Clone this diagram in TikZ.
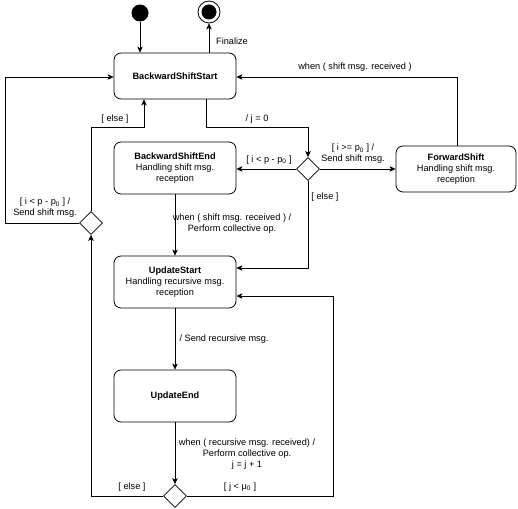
\documentclass[tikz,border=0pt]{standalone}
\usepackage{fontspec}
\setmainfont{Liberation Sans}
\usetikzlibrary{shapes.geometric,arrows.meta}
\begin{document}
\begin{tikzpicture}[x=1pt,y=-1pt,
  font=\fontsize{9.2}{11}\selectfont,
  state/.style={draw, rounded corners=7pt, line width=0.8pt, minimum width=122pt, minimum height=52pt, align=center, inner sep=2pt},
  choice/.style={draw, diamond, line width=0.8pt, minimum width=23pt, minimum height=23pt, inner sep=0pt, fill=white},
  conn/.style={line width=0.7pt, -{Stealth[length=6pt,width=5.5pt,inset=1.5pt]}},
  lbl/.style={align=center, inner sep=1pt}
]
\useasboundingbox (0,0) rectangle (518,508);

% states
\node[state, minimum height=46pt] (bss) at (175,76) {\textbf{BackwardShiftStart}};
\node[state] (bse) at (175,168) {\textbf{BackwardShiftEnd}\\Handling shift msg.\\reception};
\node[state, minimum width=120pt, minimum height=46pt] (fs) at (456,169) {\textbf{ForwardShift}\\Handling shift msg.\\reception};
\node[state] (us) at (175,282) {\textbf{UpdateStart}\\Handling recursive msg.\\reception};
\node[state] (ue) at (175,396) {\textbf{UpdateEnd}};

% pseudo states
\node[circle, fill=black, minimum size=17pt, inner sep=0pt] (init) at (140,13) {};
\node[circle, draw, line width=0.8pt, minimum size=22pt, inner sep=0pt] (fin) at (209,12) {};
\node[circle, fill=black, minimum size=15pt, inner sep=0pt] (finin) at (fin) {};

% choices
\node[choice] (d1) at (308,169) {};
\node[choice] (d2) at (91,223) {};
\node[choice] (d3) at (175,496) {};

% helper coordinates
\coordinate (c1) at (206,127);
\coordinate (c2) at (457,77);
\coordinate (c3) at (308,268);
\coordinate (c4) at (333,296);
\coordinate (c5) at (91,496);
\coordinate (c6) at (91,127);
\coordinate (c7) at (144,127);
\coordinate (c8) at (5,223);
\coordinate (c9) at (5,77);

% connectors
\draw[conn] (init) -- (init |- bss.north);
\draw[conn] (fin |- bss.north) -- (fin.south);
\draw[conn] (bss.south -| c1) -- (c1) -| (d1.north);
\draw[conn] (d1.west) -- (bse.east |- d1.west);
\draw[conn] (d1.east) -- (fs.west |- d1.east);
\draw[conn] (d1.south) -- (c3) -- (us.east |- c3);
\draw[conn] (fs.north -| c2) -- (c2) -- (bss.east |- c2);
\draw[conn] (bse.south) -- (us.north);
\draw[conn] (us.south) -- (ue.north);
\draw[conn] (ue.south) -- (d3.north);
\draw[conn] (d3.east) -| (c4) -- (us.east |- c4);
\draw[conn] (d3.west) -- (c5) -- (d2.south);
\draw[conn] (d2.north) -- (c6) -- (c7) -- (bss.south -| c7);
\draw[conn] (d2.west) -- (c8) -- (c9) -- (bss.west |- c9);

% labels
\node[lbl] (lfin) at (232,41) {Finalize};
\node[lbl] (lj0) at (257,119) {/ j = 0};
\node[lbl] (lbse) at (269,160) {[ i < p - p\textsubscript{0} ]};
\node[lbl] (lfs) at (353,154) {[ i >= p\textsubscript{0} ] /\\Send shift msg.};
\node[lbl] (lelse1) at (325,197) {[ else ]};
\node[lbl] (lfsback) at (355,67) {when ( shift msg. received )};
\node[lbl] (lbseus) at (232,224) {when ( shift msg. received ) /\\Perform collective op.};
\node[lbl] (lusue) at (224,339) {/ Send recursive msg.};
\node[lbl] (lued3) at (247,454) {when ( recursive msg. received) /\\Perform collective op.\\j = j + 1};
\node[lbl] (ljmu) at (240,487) {[ j < μ\textsubscript{0} ]};
\node[lbl] (lelse3) at (132,487) {[ else ]};
\node[lbl] (lelse2) at (115,119) {[ else ]};
\node[lbl] (ld2) at (45,208) {[ i < p - p\textsubscript{0} ] /\\Send shift msg.};
\end{tikzpicture}
\end{document}
